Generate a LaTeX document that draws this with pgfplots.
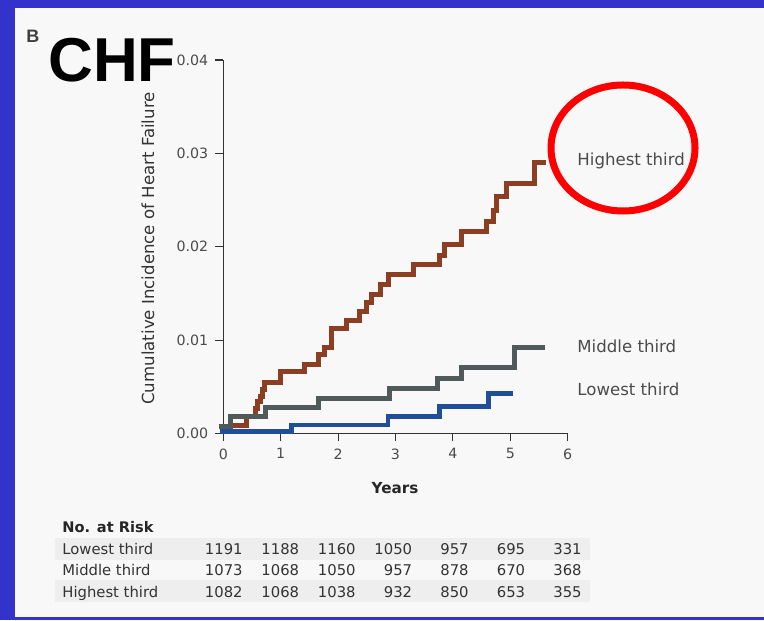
\documentclass[border=0pt]{standalone}
\usepackage{pgfplots}
\pgfplotsset{compat=1.18}
\usepackage{fontspec}
\setmainfont{DejaVu Sans}
\newfontfamily\heros{Liberation Sans}
\definecolor{bordblue}{RGB}{51,51,204}
\definecolor{bg}{RGB}{248,248,248}
\definecolor{band}{RGB}{238,238,238}
\definecolor{hi}{RGB}{140,62,34}
\definecolor{mid}{RGB}{80,90,90}
\definecolor{lo}{RGB}{32,78,152}
\definecolor{txt}{RGB}{75,75,75}
\begin{document}
\begin{tikzpicture}
\begin{scope}[x=0.5pt,y=-0.5pt,yshift=310pt]
\fill[bordblue] (0,0) rectangle (764,620);
\fill[bg] (15,8) rectangle (764,617);
\fill[band] (55,538) rectangle (590,560);
\fill[band] (55,580) rectangle (590,602);
\end{scope}
\begin{axis}[at={(111.65pt,93.25pt)}, anchor=south west,
  scale only axis, width=172.2pt, height=186.75pt,
  xmin=0, xmax=6, ymin=0, ymax=0.04,
  axis x line=bottom, axis y line=left,
  axis line style={-, line width=0.6pt, color=black!80},
  xtick={0,1,2,3,4,5,6}, ytick={0,0.01,0.02,0.03,0.04},
  xticklabels={0,1,2,3,4,5,6},
  yticklabels={0.00,0.01,0.02,0.03,0.04},
  scaled y ticks=false, scaled x ticks=false,
  tick align=outside, major tick length=4pt,
  tick style={line width=0.6pt, black!80},
  tick label style={font=\fontsize{7.1}{8}\selectfont, text=txt},
  clip=false,
]
\addplot[hi, line width=2.5pt, const plot, line join=miter] coordinates {
(0,0.0002)(0.12,0.0009)(0.41,0.0018)(0.56,0.0027)(0.60,0.0034)(0.64,0.0040)(0.68,0.0047)(0.72,0.0055)(0.99,0.0066)(1.42,0.0074)(1.65,0.0085)(1.77,0.0092)(1.89,0.0112)(2.15,0.0121)(2.38,0.0131)(2.50,0.0140)(2.58,0.0149)(2.73,0.0160)(2.87,0.0170)(3.31,0.0181)(3.77,0.0191)(3.86,0.0202)(4.15,0.0216)(4.59,0.0227)(4.70,0.0239)(4.76,0.0254)(4.94,0.0268)(5.43,0.0290)(5.62,0.0290)};
\addplot[mid, line width=2.5pt, const plot, line join=miter] coordinates {
(-0.08,0.0007)(0.12,0.0018)(0.73,0.0028)(1.66,0.0038)(2.90,0.0048)(3.73,0.0059)(4.15,0.0071)(5.08,0.0092)(5.60,0.0092)};
\addplot[lo, line width=2.3pt, const plot, line join=miter] coordinates {
(-0.05,0.0002)(1.19,0.0009)(2.87,0.0018)(3.77,0.0029)(4.62,0.0043)(5.05,0.0043)};
\end{axis}
\begin{scope}[x=0.5pt,y=-0.5pt,yshift=310pt]
\node[anchor=base west, inner sep=0, font=\heros\bfseries\fontsize{31}{35}\selectfont] at (48,82) {CHF};
\node[anchor=base west, inner sep=0, font=\heros\bfseries\fontsize{9}{10}\selectfont, text=black!75] at (26,43) {B};
\node[rotate=90, inner sep=0, font=\fontsize{8.3}{10}\selectfont, text=black!80] at (148,248.5) {Cumulative Incidence of Heart Failure};
\node[inner sep=0, font=\bfseries\fontsize{7.6}{9}\selectfont, text=black!85] at (395,488) {Years};
\node[anchor=base west, inner sep=0, font=\fontsize{8.3}{10}\selectfont, text=txt] at (577,166) {Highest third};
\node[anchor=base west, inner sep=0, font=\fontsize{8.3}{10}\selectfont, text=txt] at (577,353) {Middle third};
\node[anchor=base west, inner sep=0, font=\fontsize{8.3}{10}\selectfont, text=txt] at (577,396) {Lowest third};
\node[anchor=base west, inner sep=0, font=\bfseries\fontsize{7.3}{9}\selectfont, text=black!85] at (62,533) {No. at Risk};
\begin{scope}[every node/.style={inner sep=0, font=\fontsize{7.4}{9}\selectfont, text=black!80}]
\node[anchor=base west] at (62,555) {Lowest third};
\node[anchor=base west] at (62,575) {Middle third};
\node[anchor=base west] at (62,597) {Highest third};
\foreach \v [count=\i from 0] in {1191,1188,1160,1050,957,695,331}
  \node[anchor=base east] at (243+56.5*\i,555) {\v};
\foreach \v [count=\i from 0] in {1073,1068,1050,957,878,670,368}
  \node[anchor=base east] at (243+56.5*\i,575) {\v};
\foreach \v [count=\i from 0] in {1082,1068,1038,932,850,653,355}
  \node[anchor=base east] at (243+56.5*\i,597) {\v};
\end{scope}
\draw[red, line width=3.5pt] (623,148) ellipse [x radius=36pt, y radius=31.5pt];
\end{scope}
\end{tikzpicture}
\end{document}
